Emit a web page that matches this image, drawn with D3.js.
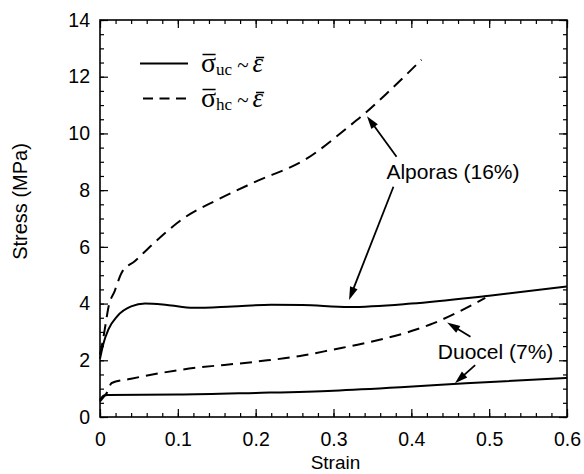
<!DOCTYPE html>
<html>
<head>
<meta charset="utf-8">
<script src="https://cdn.jsdelivr.net/npm/d3@7"></script>
<style>
  html, body { margin: 0; padding: 0; background: #fff; }
  svg { display: block; }
</style>
</head>
<body>
<svg id="chart" width="584" height="474"></svg>
<script>
// ---------------- DATA ----------------
// Alporas (16%) uniaxial compression  (solid)
const alporasUCStrain = [0, 0.004, 0.011, 0.022, 0.04, 0.058, 0.086, 0.12, 0.17, 0.22, 0.26, 0.32, 0.4, 0.5, 0.6];
const alporasUCStress = [2.05, 2.55, 3.1, 3.55, 3.9, 4.0, 3.95, 3.85, 3.9, 3.96, 3.95, 3.88, 4.0, 4.28, 4.6];
// Alporas (16%) hydrostatic compression (dashed)
const alporasHCStrain = [0, 0.003, 0.006, 0.011, 0.019, 0.028, 0.045, 0.066, 0.107, 0.15, 0.2, 0.265, 0.32, 0.338, 0.37, 0.413];
const alporasHCStress = [2.2, 2.6, 3.07, 3.89, 4.45, 5.1, 5.5, 6.05, 7.0, 7.65, 8.3, 9.1, 10.25, 10.65, 11.45, 12.6];
// Duocel (7%) uniaxial compression (solid)
const duocelUCStrain = [0, 0.005, 0.01, 0.1, 0.2, 0.3, 0.386, 0.47, 0.6];
const duocelUCStress = [0.6, 0.76, 0.78, 0.79, 0.85, 0.93, 1.05, 1.19, 1.38];
// Duocel (7%) hydrostatic compression (dashed)
const duocelHCStrain = [0, 0.005, 0.009, 0.015, 0.04, 0.1, 0.2, 0.257, 0.3, 0.343, 0.4, 0.428, 0.46, 0.495];
const duocelHCStress = [0.55, 0.72, 0.86, 1.2, 1.35, 1.65, 1.95, 2.15, 2.38, 2.62, 3.03, 3.3, 3.7, 4.2];

const xTickValues = [0, 0.1, 0.2, 0.3, 0.4, 0.5, 0.6];
const xTickLabels = ["0", "0.1", "0.2", "0.3", "0.4", "0.5", "0.6"];
const yTickValues = [0, 2, 4, 6, 8, 10, 12, 14];
const yTickLabels = ["0", "2", "4", "6", "8", "10", "12", "14"];

const xLabel = "Strain";
const yLabel = "Stress (MPa)";

// annotation labels and arrows (data units: [strain, stress])
const annoLabels = ["Alporas (16%)", "Duocel (7%)"];
const annoLabelPos = [[0.368, 8.39], [0.434, 2.03]];
const arrowFrom = [[0.381, 9.18], [0.377, 8.12], [0.476, 2.83], [0.482, 1.83]];
const arrowTo   = [[0.343, 10.61], [0.320, 4.13], [0.446, 3.33], [0.456, 1.19]];

// ---------------- CHART ----------------
const W = 584, H = 474;
const margin = {left: 100, top: 20, right: 17, bottom: 57};
const svg = d3.select("#chart");
const x = d3.scaleLinear().domain([0, 0.6]).range([margin.left, W - margin.right]);
const y = d3.scaleLinear().domain([0, 14]).range([H - margin.bottom, margin.top]);

const sans = "'Liberation Sans', Arial, Helvetica, sans-serif";
const serif = "'Liberation Serif', 'Times New Roman', Times, serif";

const pts = (xs, ys) => xs.map((v, i) => [v, ys[i]]);
const line = d3.line().x(d => x(d[0])).y(d => y(d[1])).curve(d3.curveMonotoneX);

const series = [
  {data: pts(alporasUCStrain, alporasUCStress), dash: null},
  {data: pts(alporasHCStrain, alporasHCStress), dash: "12,7"},
  {data: pts(duocelUCStrain, duocelUCStress), dash: null},
  {data: pts(duocelHCStrain, duocelHCStress), dash: "12,7"}
];

svg.append("g").selectAll("path").data(series).join("path")
  .attr("d", d => line(d.data))
  .attr("fill", "none")
  .attr("stroke", "#000")
  .attr("stroke-width", 2)
  .attr("stroke-dasharray", d => d.dash);

// axes with inward ticks on all four sides
const x0 = x.range()[0], x1 = x.range()[1], y0 = y.range()[0], y1 = y.range()[1];
const minorX = d3.range(0, 0.6001, 0.02);
const minorY = d3.range(0, 14.001, 0.5);

function styleAxis(g) {
  g.select(".domain").remove();
  g.selectAll(".tick line").attr("stroke", "#000").attr("stroke-width", 1.2);
  g.selectAll(".tick text").attr("fill", "#000").attr("font-family", sans).attr("font-size", 19.5);
}

svg.append("g").attr("transform", `translate(0,${y0})`)
  .call(d3.axisBottom(x).tickValues(minorX).tickSize(-4).tickFormat(""))
  .call(styleAxis);
svg.append("g").attr("transform", `translate(0,${y0})`)
  .call(d3.axisBottom(x).tickValues(xTickValues).tickSize(-8).tickPadding(15)
    .tickFormat((d, i) => xTickLabels[i]))
  .call(styleAxis);
svg.append("g").attr("transform", `translate(0,${y1})`)
  .call(d3.axisTop(x).tickValues(minorX).tickSize(-4).tickFormat(""))
  .call(styleAxis);
svg.append("g").attr("transform", `translate(0,${y1})`)
  .call(d3.axisTop(x).tickValues(xTickValues).tickSize(-8).tickFormat(""))
  .call(styleAxis);

svg.append("g").attr("transform", `translate(${x0},0)`)
  .call(d3.axisLeft(y).tickValues(minorY).tickSize(-4).tickFormat(""))
  .call(styleAxis);
svg.append("g").attr("transform", `translate(${x0},0)`)
  .call(d3.axisLeft(y).tickValues(yTickValues).tickSize(-8).tickPadding(10)
    .tickFormat((d, i) => yTickLabels[i]))
  .call(styleAxis);
svg.append("g").attr("transform", `translate(${x1},0)`)
  .call(d3.axisRight(y).tickValues(minorY).tickSize(-4).tickFormat(""))
  .call(styleAxis);
svg.append("g").attr("transform", `translate(${x1},0)`)
  .call(d3.axisRight(y).tickValues(yTickValues).tickSize(-8).tickFormat(""))
  .call(styleAxis);

// frame
svg.append("rect")
  .attr("x", x0).attr("y", y1).attr("width", x1 - x0).attr("height", y0 - y1)
  .attr("fill", "none").attr("stroke", "#000").attr("stroke-width", 1.6);

// axis titles
svg.append("text").attr("x", (x0 + x1) / 2 + 2).attr("y", 468.5)
  .attr("text-anchor", "middle").attr("font-family", sans).attr("font-size", 19)
  .text(xLabel);
svg.append("text")
  .attr("transform", `translate(27,${(y0 + y1) / 2 - 17}) rotate(-90)`)
  .attr("text-anchor", "middle").attr("font-family", sans).attr("font-size", 20)
  .text(yLabel);

// annotations
svg.append("g").selectAll("text").data(annoLabels).join("text")
  .attr("x", (d, i) => x(annoLabelPos[i][0]))
  .attr("y", (d, i) => y(annoLabelPos[i][1]))
  .attr("font-family", sans).attr("font-size", 21)
  .text(d => d);

const arrows = arrowFrom.map((f, i) => ({f: f, t: arrowTo[i]}));
const ag = svg.append("g");
arrows.forEach(a => {
  const fx = x(a.f[0]), fy = y(a.f[1]), tx = x(a.t[0]), ty = y(a.t[1]);
  const dx = tx - fx, dy = ty - fy, len = Math.hypot(dx, dy);
  const ux = dx / len, uy = dy / len;
  const hl = 13, hw = 4;
  const bx = tx - ux * hl, by = ty - uy * hl;
  ag.append("line").attr("x1", fx).attr("y1", fy).attr("x2", bx + ux * 2).attr("y2", by + uy * 2)
    .attr("stroke", "#000").attr("stroke-width", 1.8);
  ag.append("path")
    .attr("d", `M${tx},${ty}L${bx - uy * hw},${by + ux * hw}L${bx + uy * hw},${by - ux * hw}Z`)
    .attr("fill", "#000");
});

// legend
const legendRows = [
  {y: 63.5, dash: null, sub: "uc", x1: 140, x2: 188},
  {y: 98.5, dash: "10,6.5", sub: "hc", x1: 143, x2: 191}
];
legendRows.forEach(r => {
  svg.append("line").attr("x1", r.x1).attr("x2", r.x2).attr("y1", r.y).attr("y2", r.y)
    .attr("stroke", "#000").attr("stroke-width", 2).attr("stroke-dasharray", r.dash);
  const base = r.y + 8.5;
  const t = svg.append("text").attr("x", 201).attr("y", base)
    .attr("font-family", serif).attr("fill", "#000");
  t.append("tspan").attr("font-size", 28).text("σ");
  t.append("tspan").attr("font-size", 17).attr("dy", 3).text(r.sub);
  t.append("tspan").attr("font-size", 21).attr("dy", -3).attr("dx", 5).text("~");
  t.append("tspan").attr("font-size", 27).attr("font-style", "italic").attr("dx", 4).text("ε");
  const node = t.node();
  const n = node.getNumberOfChars();
  const e0 = node.getExtentOfChar(0);
  const e1 = node.getExtentOfChar(n - 1);
  svg.append("line").attr("x1", e0.x + 1.5).attr("x2", e0.x + e0.width - 0.5)
    .attr("y1", base - 17.5).attr("y2", base - 17.5).attr("stroke", "#000").attr("stroke-width", 1.5);
  svg.append("line").attr("x1", e1.x + 3.5).attr("x2", e1.x + e1.width + 1)
    .attr("y1", base - 14.5).attr("y2", base - 14.5).attr("stroke", "#000").attr("stroke-width", 1.5);
});
</script>
</body>
</html>
